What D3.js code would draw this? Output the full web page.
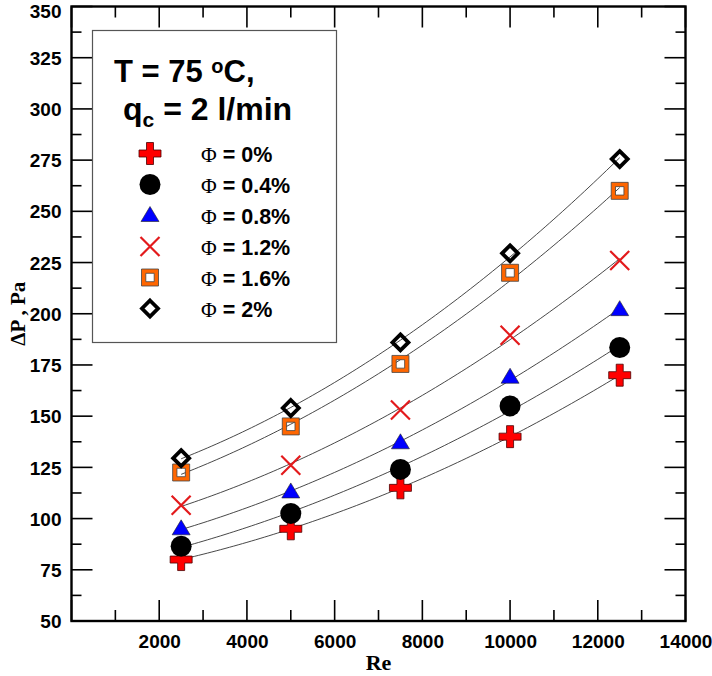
<!DOCTYPE html>
<html><head><meta charset="utf-8">
<script src="https://cdnjs.cloudflare.com/ajax/libs/d3/7.8.5/d3.min.js"></script>
<style>
html,body{margin:0;padding:0;background:#fff;}
svg{display:block;}
</style></head>
<body>
<svg id="chart" width="712" height="676"></svg>
<script>
// ---- data ----
const reValues = [2500, 5000, 7500, 10000, 12500];
const phi0   = [80, 95, 115, 140, 170];
const phi04  = [86.5, 102.5, 124, 155, 183.5];
const phi08  = [95, 113, 137, 169, 202];
const phi12  = [106.5, 126, 153, 189.5, 226];
const phi16  = [122.5, 145, 175.5, 220, 260];
const phi20  = [129.5, 154, 186, 229.5, 275.5];
const seriesNames = ["\u03A6 = 0%", "\u03A6 = 0.4%", "\u03A6 = 0.8%", "\u03A6 = 1.2%", "\u03A6 = 1.6%", "\u03A6 = 2%"];
const xTicks = [2000, 4000, 6000, 8000, 10000, 12000, 14000];
const yTicks = [50, 75, 100, 125, 150, 175, 200, 225, 250, 275, 300, 325, 350];

const series = [
  {name: seriesNames[0], values: phi0,  sym: "plus"},
  {name: seriesNames[1], values: phi04, sym: "circle"},
  {name: seriesNames[2], values: phi08, sym: "triangle"},
  {name: seriesNames[3], values: phi12, sym: "cross"},
  {name: seriesNames[4], values: phi16, sym: "square"},
  {name: seriesNames[5], values: phi20, sym: "diamond"}
];

const svg = d3.select("#chart");
const L = 71.5, R = 685.5, T = 6.5, B = 621;
const x = d3.scaleLinear().domain([0, 14000]).range([L, R]);
const y = d3.scaleLinear().domain([50, 350]).range([B, T]);
const sans = "'Liberation Sans', Arial, sans-serif";
const serif = "'Liberation Serif', 'Times New Roman', serif";

// quadratic least squares fit
function quadFit(xs, ys) {
  const n = xs.length;
  let s = [0,0,0,0,0], t = [0,0,0];
  for (let i = 0; i < n; i++) {
    const u = xs[i] / 10000;
    for (let k = 0; k < 5; k++) s[k] += Math.pow(u, k);
    for (let k = 0; k < 3; k++) t[k] += ys[i] * Math.pow(u, k);
  }
  const M = [[s[0],s[1],s[2],t[0]],[s[1],s[2],s[3],t[1]],[s[2],s[3],s[4],t[2]]];
  for (let i = 0; i < 3; i++) {
    for (let j = i+1; j < 3; j++) {
      const f = M[j][i] / M[i][i];
      for (let k = i; k < 4; k++) M[j][k] -= f * M[i][k];
    }
  }
  const c = [0,0,0];
  for (let i = 2; i >= 0; i--) {
    let v = M[i][3];
    for (let k = i+1; k < 3; k++) v -= M[i][k] * c[k];
    c[i] = v / M[i][i];
  }
  return xv => { const u = xv / 10000; return c[0] + c[1]*u + c[2]*u*u; };
}

// fit curves
const line = d3.line().x(d => x(d[0])).y(d => y(d[1]));
series.forEach(s => {
  const f = quadFit(reValues, s.values);
  const pts = d3.range(reValues[0], reValues[reValues.length-1] + 1, 100).map(r => [r, f(r)]);
  svg.append("path").attr("d", line(pts)).attr("fill", "none")
    .attr("stroke", "#333").attr("stroke-width", 0.9);
});

// marker drawing
function drawMarker(g, sym, cx, cy) {
  if (sym === "plus") {
    const a = 11, w = 3.5;
    g.append("path").attr("d",
      `M${cx-w},${cy-a}H${cx+w}V${cy-w}H${cx+a}V${cy+w}H${cx+w}V${cy+a}H${cx-w}V${cy+w}H${cx-a}V${cy-w}H${cx-w}Z`)
      .attr("fill", "#ff0000").attr("stroke", "#4a0000").attr("stroke-width", 0.8);
  } else if (sym === "circle") {
    g.append("circle").attr("cx", cx).attr("cy", cy).attr("r", 10.5).attr("fill", "#000");
  } else if (sym === "triangle") {
    const h = 15, w = 9;
    g.append("path").attr("d", `M${cx},${cy-h*0.6}L${cx+w},${cy+h*0.4}L${cx-w},${cy+h*0.4}Z`)
      .attr("fill", "#0000ff").attr("stroke", "#222").attr("stroke-width", 0.6);
  } else if (sym === "cross") {
    const a = 9.5;
    g.append("path").attr("d", `M${cx-a},${cy-a}L${cx+a},${cy+a}M${cx-a},${cy+a}L${cx+a},${cy-a}`)
      .attr("stroke", "#e31a1c").attr("stroke-width", 2.2).attr("fill", "none");
  } else if (sym === "square") {
    const o = 8.5, i = 4.2;
    g.append("path").attr("d",
      `M${cx-o},${cy-o}H${cx+o}V${cy+o}H${cx-o}Z M${cx-i},${cy-i}V${cy+i}H${cx+i}V${cy-i}Z`)
      .attr("fill", "#ff6600").attr("fill-rule", "evenodd").attr("stroke", "#444").attr("stroke-width", 0.8);
  } else if (sym === "diamond") {
    const a = 8;
    g.append("path").attr("d", `M${cx},${cy-a}L${cx+a},${cy}L${cx},${cy+a}L${cx-a},${cy}Z`)
      .attr("fill", "none").attr("stroke", "#000").attr("stroke-width", 3.8);
  }
}

series.forEach(s => {
  const g = svg.append("g");
  s.values.forEach((v, i) => drawMarker(g, s.sym, x(reValues[i]), y(v)));
});

// axes tick labels
const bottomAxis = d3.axisBottom(x).tickValues(xTicks).tickSize(0).tickFormat(d3.format("d"));
const ga = svg.append("g").attr("transform", `translate(0,${B})`).call(bottomAxis);
ga.select(".domain").remove();
ga.selectAll("text").attr("font-family", sans).attr("font-weight", "bold")
  .attr("font-size", 19).attr("fill", "#000").attr("dy", null).attr("y", 27);

const leftAxis = d3.axisLeft(y).tickValues(yTicks).tickSize(0);
const gl = svg.append("g").attr("transform", `translate(${L},0)`).call(leftAxis);
gl.select(".domain").remove();
gl.selectAll("text").attr("font-family", sans).attr("font-weight", "bold")
  .attr("font-size", 19).attr("fill", "#000").attr("x", -10).attr("dy", "0.35em");
gl.selectAll(".tick").filter(d => d === 350).select("text").attr("dy", "0.6em");

// ticks (inward on all four sides)
const tickG = svg.append("g").attr("stroke", "#000").attr("stroke-width", 1.6);
const xMajor = d3.range(0, 14001, 2000), xMinor = d3.range(1000, 14000, 2000);
const yMajor = d3.range(50, 351, 25), yMinor = d3.range(62.5, 350, 25);
xMajor.forEach(v => {
  tickG.append("line").attr("x1", x(v)).attr("x2", x(v)).attr("y1", B).attr("y2", B - 21);
  tickG.append("line").attr("x1", x(v)).attr("x2", x(v)).attr("y1", T).attr("y2", T + 21);
});
xMinor.forEach(v => {
  tickG.append("line").attr("x1", x(v)).attr("x2", x(v)).attr("y1", B).attr("y2", B - 11);
  tickG.append("line").attr("x1", x(v)).attr("x2", x(v)).attr("y1", T).attr("y2", T + 11);
});
yMajor.forEach(v => {
  tickG.append("line").attr("x1", L).attr("x2", L + 21).attr("y1", y(v)).attr("y2", y(v));
  tickG.append("line").attr("x1", R).attr("x2", R - 21).attr("y1", y(v)).attr("y2", y(v));
});
yMinor.forEach(v => {
  tickG.append("line").attr("x1", L).attr("x2", L + 10).attr("y1", y(v)).attr("y2", y(v));
  tickG.append("line").attr("x1", R).attr("x2", R - 10).attr("y1", y(v)).attr("y2", y(v));
});
svg.append("rect").attr("x", L).attr("y", T).attr("width", R - L).attr("height", B - T)
  .attr("fill", "none").attr("stroke", "#000").attr("stroke-width", 2.4);

// axis titles
svg.append("text").attr("x", (L + R) / 2).attr("y", 670).attr("text-anchor", "middle")
  .attr("font-family", serif).attr("font-weight", "bold").attr("font-size", 22).text("Re");
svg.append("text").attr("transform", `translate(25,${(T + B) / 2}) rotate(-90)`).attr("text-anchor", "middle")
  .attr("font-family", serif).attr("font-weight", "bold").attr("font-size", 21).text("\u0394P , Pa");

// legend box
svg.append("rect").attr("x", 92.5).attr("y", 30.5).attr("width", 244).attr("height", 312)
  .attr("fill", "#fff").attr("stroke", "#555").attr("stroke-width", 1.2);

const t1 = svg.append("text").attr("x", 114).attr("y", 82).attr("font-family", sans)
  .attr("font-weight", "bold").attr("font-size", 31);
t1.append("tspan").text("T = 75 ");
t1.append("tspan").attr("font-size", 20).attr("dy", -9).text("o");
t1.append("tspan").attr("dy", 9).text("C,");

const t2 = svg.append("text").attr("x", 123).attr("y", 120).attr("font-family", sans)
  .attr("font-weight", "bold").attr("font-size", 32);
t2.append("tspan").text("q");
t2.append("tspan").attr("font-size", 21).attr("dy", 7).text("c");
t2.append("tspan").attr("dy", -7).text(" = 2 l/min");

series.forEach((s, i) => {
  const cy = 153.5 + i * 31;
  const g = svg.append("g");
  drawMarker(g, s.sym, 150, cy);
  const tx = svg.append("text").attr("x", 201).attr("y", cy + 8).attr("font-size", 21.5)
    .attr("font-family", sans).attr("font-weight", "bold");
  tx.append("tspan").attr("font-family", serif).attr("font-weight", "normal").text(s.name.slice(0, 1));
  tx.append("tspan").text(s.name.slice(1));
});
</script>
</body></html>
